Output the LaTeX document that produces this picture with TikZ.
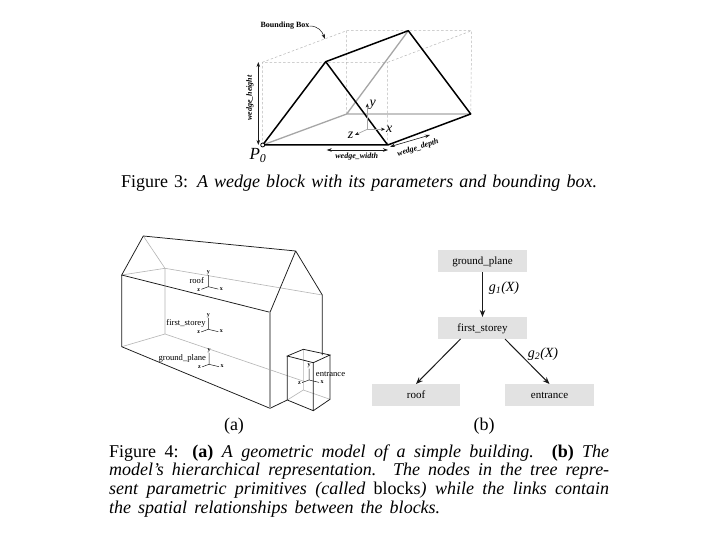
\documentclass[tikz,border=0pt]{standalone}
\usepackage{fontspec}
\setmainfont{Liberation Serif}
\usetikzlibrary{arrows.meta, positioning}
\definecolor{boxGray}{HTML}{E2E2E2}
\definecolor{hiddenGray}{HTML}{A6A6A6}
\definecolor{wireGray}{HTML}{B4B4B4}
\definecolor{dashGray}{HTML}{B8B8B8}
\definecolor{inkDark}{HTML}{1A1A1A}
\newcommand{\fullline}[1]{\hbox to 500pt{#1}}
\tikzset{
  treebox/.style={fill=boxGray, minimum width=88.5pt, minimum height=22pt, inner sep=0pt, outer sep=0pt, text height=8.5pt, text depth=1.5pt, font=\fontsize{11}{12}\selectfont},
  treearr/.style={-{Stealth[length=7pt,width=5.5pt]}, inkDark, line width=1pt},
  wedgeline/.style={black, line width=1.5pt, line join=round},
  wedgehidden/.style={hiddenGray, line width=1.3pt},
  bboxline/.style={dashGray, line width=0.5pt, dash pattern=on 2.5pt off 2pt},
  dimarr/.style={{Stealth[length=5pt,width=3.5pt]}-{Stealth[length=5pt,width=3.5pt]}, inkDark, line width=0.6pt},
  axisarr/.style={-{Stealth[length=4pt,width=3.2pt,color=inkDark]}, hiddenGray, line width=0.7pt},
  dimlabel/.style={font=\fontsize{8}{9}\selectfont\bfseries\itshape, inner sep=0pt},
  wire/.style={inkDark, line width=0.75pt},
  wirehidden/.style={wireGray, line width=0.6pt},
  blocklabel/.style={font=\fontsize{8.6}{10}\selectfont, inner sep=0pt},
  tinyaxis/.style={font=\fontsize{6}{6}\selectfont\bfseries, inner sep=0pt},
  caption/.style={font=\fontsize{18}{18.6}\selectfont, inner sep=0pt},
  axislabel/.style={font=\fontsize{14}{14}\selectfont\itshape, inner sep=0pt},
}
\begin{document}
\begin{tikzpicture}[x=1pt, y=-1pt]
  \useasboundingbox[fill=white] (0,0) rectangle (720,540);
  % wedge block
  \coordinate (p0) at (262.7,145);
  \coordinate (fa) at (325.7,61.7);
  \coordinate (fr) at (387.7,145);
  \coordinate (ba) at (408.3,30.7);
  \coordinate (br) at (470.7,114);
  \coordinate (bl) at (346.7,114);
  \coordinate (t1) at (262.3,62.3);
  \coordinate (t2) at (387.7,62.3);
  \coordinate (t3) at (346.7,30.7);
  \coordinate (t4) at (471.7,30.7);
  \draw[bboxline] (p0)--(t1)--(t2)--(fr) (t1)--(t3)--(t4)--(br) (t2)--(t4) (t3)--(bl);
  \draw[wedgehidden] (p0)--(bl)--(br) (bl)--(ba);
  \draw[wedgeline] (p0)--(fa)--(fr)--cycle (fa)--(ba)--(br)--(fr);
  \node[draw=black, fill=white, circle, line width=0.8pt, minimum size=4pt, inner sep=0pt] (corner) at (p0) {};
  \node[font=\fontsize{17}{17}\selectfont\itshape, inner sep=0pt] (p0label) at (258,155.5) {P\textsubscript{0}};
  % bounding box and dimensions
  \node[font=\fontsize{8}{9}\selectfont\bfseries, inner sep=0pt] (bblabel) at (285,26) {Bounding Box};
  \coordinate (bbtip) at (325,39);
  \draw[-{Stealth[length=5pt,width=3.5pt]}, inkDark, line width=0.5pt] (bblabel.east) .. controls (318,26) and (322,31) .. (bbtip);
  \coordinate (ha) at (258.3,62);
  \coordinate (hb) at (258.3,145);
  \draw[dimarr] (ha)--(hb);
  \node[dimlabel, rotate=90] (heightlabel) at (250,98) {wedge\_height};
  \coordinate (wa) at (326.7,150);
  \coordinate (wb) at (388,150);
  \draw[dimarr] (wa)--(wb);
  \node[dimlabel] (widthlabel) at (356.7,156.7) {wedge\_width};
  \coordinate (da) at (390,146.7);
  \coordinate (db) at (430,135);
  \draw[dimarr] (da)--(db);
  \node[dimlabel, rotate=17] (depthlabel) at (418,148) {wedge\_depth};
  % wedge axes
  \coordinate (wo) at (367.3,129.3);
  \node[axislabel] (wy) at (372.7,105) {y};
  \node[axislabel] (wx) at (389.3,129.3) {x};
  \node[axislabel] (wz) at (350.7,135) {z};
  \draw[axisarr] (wo)--(367.3,103.5);
  \draw[axisarr] (wo)--(385,129.3);
  \draw[axisarr] (wo)--(355,135);
  \node[caption] (cap3) at (359,183) {\hbox to 476pt{Figure 3: \textit{A wedge block with its parameters and bounding box.}}};
  % building
  \coordinate (ra) at (143.3,236);
  \coordinate (rb) at (295.7,251);
  \coordinate (el) at (121.7,275);
  \coordinate (em) at (270,312.3);
  \coordinate (er) at (322.3,295);
  \coordinate (eb) at (165,268.3);
  \coordinate (gl) at (121.7,346.7);
  \coordinate (gm) at (270,408.3);
  \coordinate (gb) at (165,334);
  \coordinate (gr) at (322.3,355);
  \coordinate (ga) at (287.3,400);
  \coordinate (gc) at (305,381.7);
  \draw[wirehidden] (ra)--(eb) (el)--(eb)--(er) (eb)--(gb) (gl)--(gb)--(gc);
  \draw[wire] (el)--(ra)--(rb)--(em)--cycle (rb)--(er)--(gr) (el)--(gl)--(gm) (gm)--(ga);
  \draw[hiddenGray, line width=1.3pt] (em)--(gm);
  % entrance box
  \coordinate (n1) at (287.3,356);
  \coordinate (n2) at (303.3,349.3);
  \coordinate (n3) at (330,355);
  \coordinate (n4) at (313.3,362.7);
  \coordinate (n5) at (287.3,400);
  \coordinate (n6) at (313.3,410.7);
  \coordinate (n7) at (330,399.3);
  \coordinate (n8) at (303.3,390);
  \draw[wirehidden] (n2)--(n8) (n5)--(n8)--(n7);
  \draw[wire] (n1)--(n2)--(n3)--(n4)--cycle (n1)--(n5)--(n6)--(n7)--(n3) (n4)--(n6);
  % block axes
  \foreach \ox/\oy/\nm in {208.3/286.7/roof, 208.3/329.3/storey, 209/364.3/ground, 309/380/entr}{
    \coordinate (o\nm) at (\ox,\oy);
    \draw[inkDark, line width=0.5pt] (o\nm)--++(0,-11.5) (o\nm)--++(10,2.4) (o\nm)--++(-7,2.6);
    \node[tinyaxis] (y\nm) at (\ox,\oy-14) {y};
    \node[tinyaxis] (x\nm) at (\ox+13,\oy+2) {x};
    \node[tinyaxis] (z\nm) at (\ox-9.5,\oy+3) {z};
  }
  \node[blocklabel] (roofl) at (196.7,281) {roof};
  \node[blocklabel] (storeyl) at (186,323.3) {first\_storey};
  \node[blocklabel] (groundl) at (182.3,358.3) {ground\_plane};
  \node[blocklabel] (entrl) at (330.5,374) {entrance};
  \node[caption] (capa) at (234,426) {(a)};
  % tree
  \node[treebox] (gnd) at (482.5,261) {ground\_plane};
  \node[treebox] (first) at (482.5,328) {first\_storey};
  \node[treebox] (roof) at (416,395) {roof};
  \node[treebox] (entr) at (549.5,395) {entrance};
  \draw[treearr] (gnd)--(first);
  \draw[treearr] ([xshift=-22pt]first.south)--(roof.north);
  \draw[treearr] ([xshift=22.5pt]first.south)--(entr.north);
  \node[font=\fontsize{14}{14}\selectfont\itshape, inner sep=0pt] (g1) at (504,288) {g\textsubscript{1}(X)};
  \node[font=\fontsize{14}{14}\selectfont\itshape, inner sep=0pt] (g2) at (543,354) {g\textsubscript{2}(X)};
  \node[caption] (capb) at (484,426) {(b)};
  \node[caption, align=left, anchor=north west] (cap4) at (109,444.5) {\fullline{Figure 4:  \textbf{(a)} \textit{A geometric model of a simple building.}  \textbf{(b)} \textit{The}}\\
    \fullline{\textit{model's hierarchical representation. The nodes in the tree repre-}}\\
    \fullline{\textit{sent parametric primitives (called} blocks\textit{) while the links contain}}\\
    \hbox to 331pt{\textit{the spatial relationships between the blocks.}}};
\end{tikzpicture}
\end{document}
